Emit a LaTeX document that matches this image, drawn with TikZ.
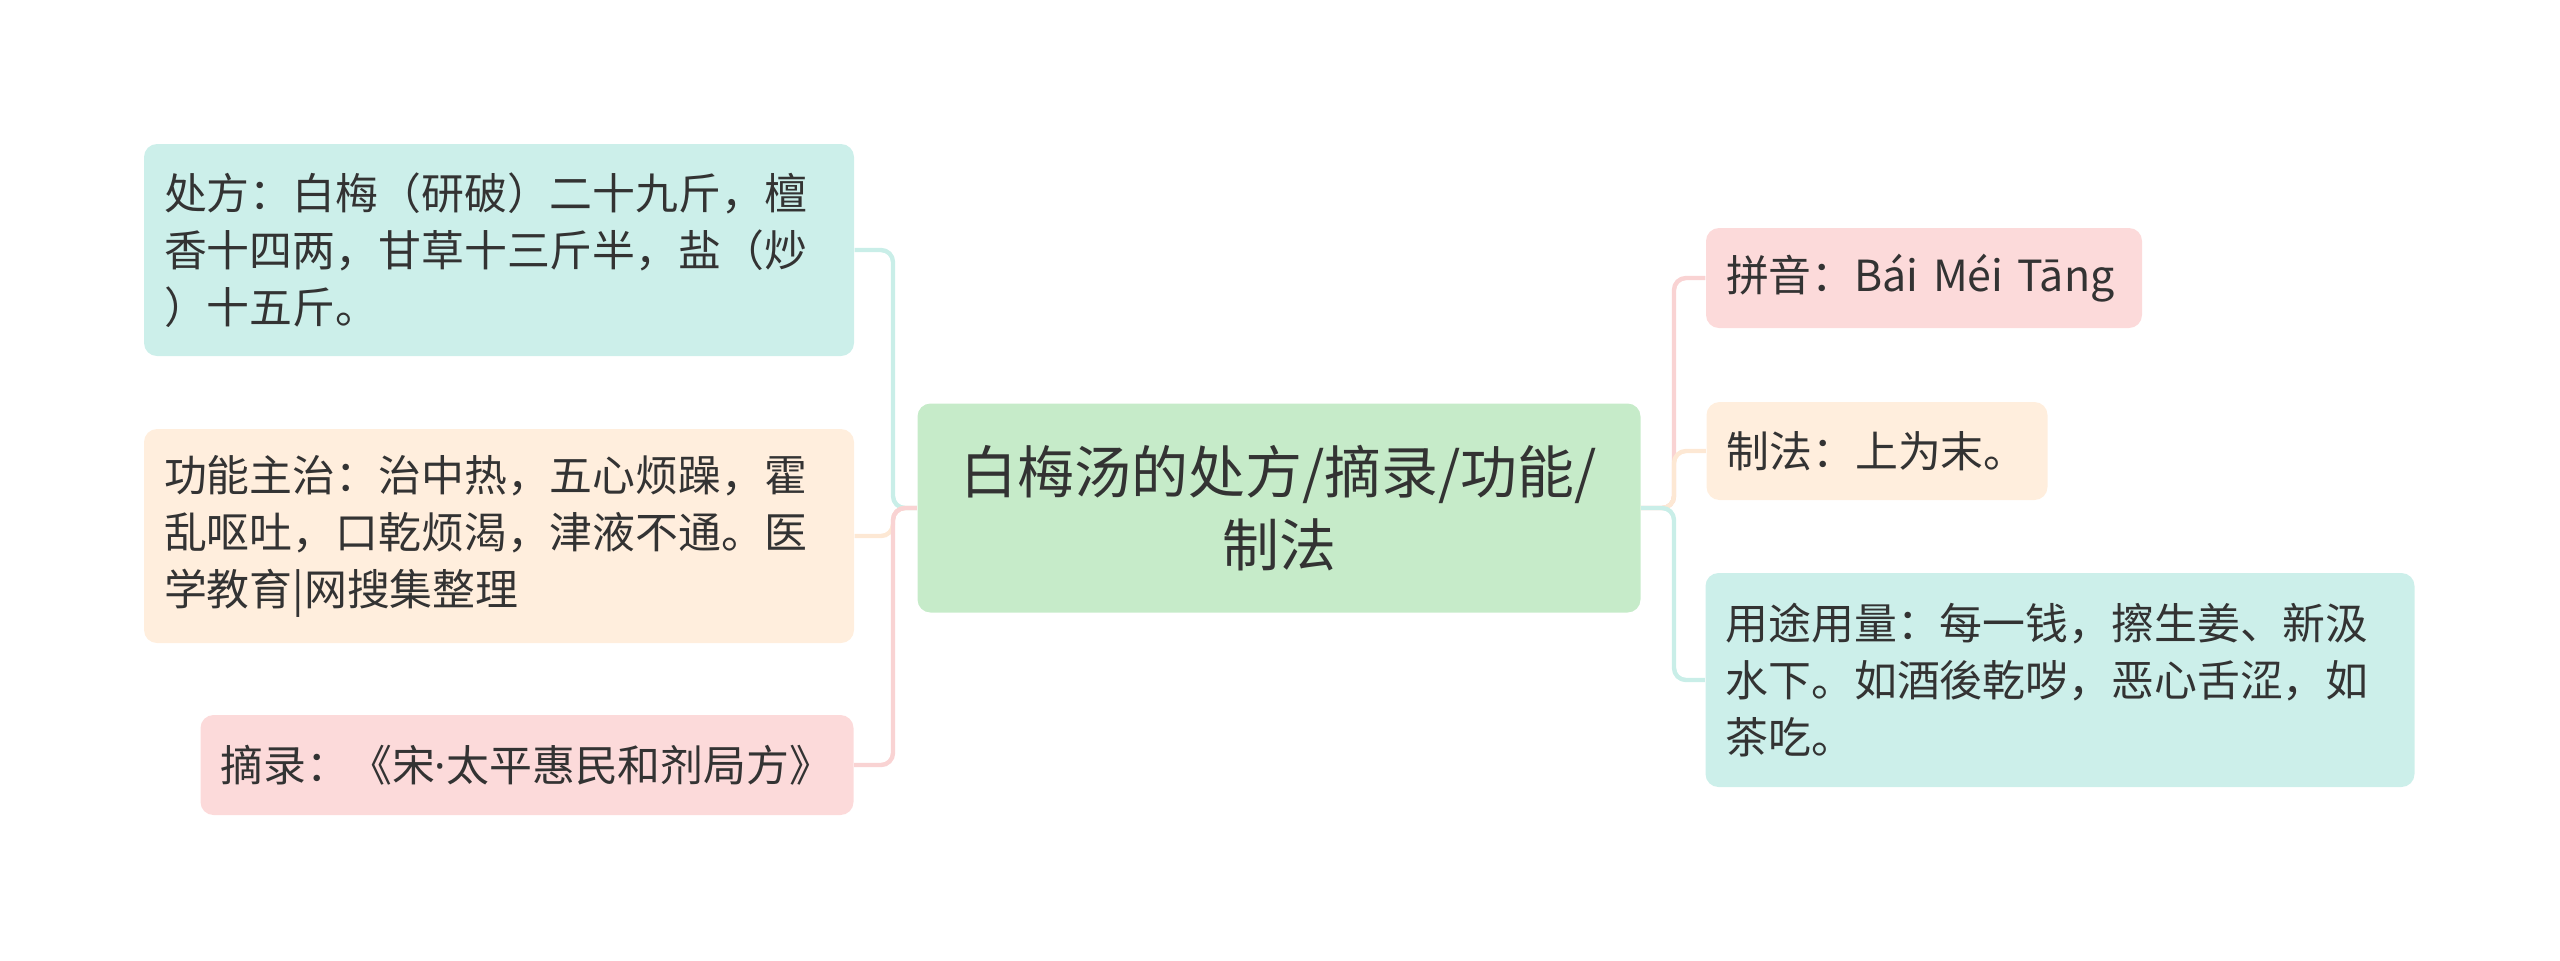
\documentclass[tikz,border=0pt]{standalone}
\usepackage{fontspec}
\newfontfamily\cjk{Noto Sans CJK SC}
\newfontfamily\latn{Noto Sans}
\usepackage{tikz}
\usetikzlibrary{positioning, calc}
\definecolor{rootgreen}{HTML}{C6EBC9}
\definecolor{leafcyan}{HTML}{CCEFEA}
\definecolor{leafpeach}{HTML}{FFEEDD}
\definecolor{leafpink}{HTML}{FCDADA}
\definecolor{linecyan}{HTML}{C9EEE8}
\definecolor{linepeach}{HTML}{FDE8D4}
\definecolor{linepink}{HTML}{F9D3D3}
\definecolor{inktext}{HTML}{333333}
\tikzset{
	leafbox/.style={rounded corners=0.13cm, inner xsep=0.2cm, inner ysep=0pt,
		align=left, text=inktext, font=\cjk\fontsize{12.2pt}{16.2pt}\selectfont}
}
\tikzset{
	rootbox/.style={rounded corners=0.13cm, fill=rootgreen, align=center, text=inktext,
		minimum width=7.23cm, minimum height=2.09cm,
		font=\cjk\fontsize{16.2pt}{20.9pt}\selectfont}
}
\tikzset{
	link/.style={line width=1.25pt, rounded corners=0.12cm}
}

\begin{document}
\begin{tikzpicture}
      \useasboundingbox (0,0) rectangle (25.6,-9.6);
      \node[rootbox] (root) at (12.79,-5.08) {白梅汤的处方/摘录/功能/\\制法};
      % left side
      \node[leafbox, fill=leafcyan, text width=6.7cm, minimum height=2.12cm] (chufang) at (4.99,-2.50)
        {处方：白梅（研破）二十九斤，檀\\香十四两，甘草十三斤半，盐（炒\\）十五斤。};
      \node[leafbox, fill=leafpeach, text width=6.7cm, minimum height=2.14cm] (gongneng) at (4.99,-5.36)
        {功能主治：治中热，五心烦躁，霍\\乱呕吐，口乾烦渴，津液不通。医\\学教育|网搜集整理};
      \node[leafbox, fill=leafpink, text width=6.13cm, minimum height=1.0cm] (zhailu) at (5.27,-7.65)
        {摘录：《宋{\latn ·}太平惠民和剂局方》};
      % right side
      \node[leafbox, fill=leafpink, text width=3.96cm, minimum height=1.0cm] (pinyin) at (19.24,-2.78)
        {拼音：Bái Méi Tāng};
      \node[leafbox, fill=leafpeach, text width=3.01cm, minimum height=0.98cm] (zhifa) at (18.77,-4.51)
        {制法：上为末。};
      \node[leafbox, fill=leafcyan, text width=6.69cm, minimum height=2.14cm] (yongtu) at (20.60,-6.80)
        {用途用量：每一钱，擦生姜、新汲\\水下。如酒後乾哕，恶心舌涩，如\\茶吃。};
      \coordinate (lbus) at (8.93,-5.08);
      \coordinate (rbus) at (16.74,-5.08);
      \draw[link, linecyan] (root.west) -- (lbus) |- (chufang.east);
      \draw[link, linepeach] (root.west) -- (lbus) |- (gongneng.east);
      \draw[link, linepink] (root.west) -- (lbus) |- (zhailu.east);
      \draw[link, linepink] (root.east) -- (rbus) |- (pinyin.west);
      \draw[link, linepeach] (root.east) -- (rbus) |- (zhifa.west);
      \draw[link, linecyan] (root.east) -- (rbus) |- (yongtu.west);
    \end{tikzpicture}
\end{document}
